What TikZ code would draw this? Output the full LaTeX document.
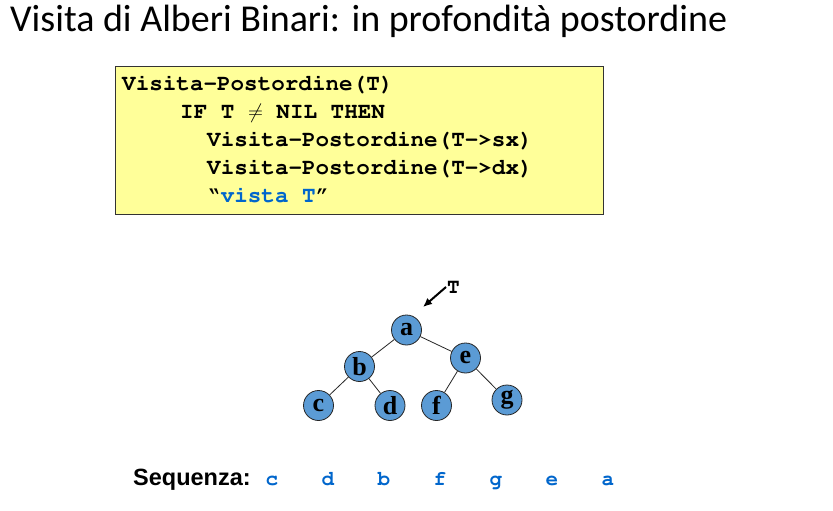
\documentclass[tikz,border=0pt]{standalone}
\usepackage{fontspec}
\setmainfont{Liberation Serif}
\newfontfamily\titlefont{Carlito}
\newfontfamily\labelfont{Liberation Sans}
% Courier (URW Nimbus Mono) for the pseudocode
\newcommand\courierbold{\fontencoding{T1}\fontfamily{pcr}\fontseries{b}\selectfont}
\usetikzlibrary{arrows.meta}
\definecolor{codebg}{HTML}{FFFF99}
\definecolor{nodeblue}{HTML}{5B9BD5}
\definecolor{seqblue}{HTML}{0066CC}
\tikzset{
  codebox/.style={draw=black!80, line width=0.8pt, fill=codebg},
  codeline/.style={anchor=base west, inner sep=0pt, font=\fontsize{22.6}{28}\courierbold},
  treenode/.style={circle, draw=black!85, line width=0.8pt, fill=nodeblue, minimum size=30pt, inner sep=0pt,
    font=\bfseries\fontsize{26}{26}\selectfont},
  treeedge/.style={draw=black!85, line width=0.8pt},
  seqitem/.style={anchor=base, inner sep=0pt, text=seqblue, font=\fontsize{21}{21}\courierbold},
}
\begin{document}
\begin{tikzpicture}[x=1pt,y=-1pt]
\useasboundingbox[fill=white] (0,0) rectangle (833,511);

% heading
\node[anchor=base west, inner sep=0pt, font=\titlefont\fontsize{38}{42}\selectfont] (title) at (10,32)
  {Visita di Alberi Binari: in profondità postordine};

% pseudocode box
\draw[codebox] (115,66) rectangle (603,214);
\node[codeline] (l1) at (122,90) {Visita-Postordine(T)};
\node[codeline] (l2) at (180,118) {IF T $\neq$ NIL THEN};
\node[codeline] (l3) at (207,146) {Visita-Postordine(T->sx)};
\node[codeline] (l4) at (207,174) {Visita-Postordine(T->dx)};
\node[codeline] (l5) at (207,202) {``\textcolor{seqblue}{vista T}''};

% binary tree
\node[treenode] (a) at (406.5,330) {a};
\node[treenode] (b) at (359.5,366.5) {b};
\node[treenode] (e) at (465.5,358) {e};
\node[treenode] (c) at (318.5,405.5) {c};
\node[treenode] (d) at (390,405.5) {d};
\node[treenode] (f) at (436.5,405.5) {f};
\node[treenode] (g) at (507,400) {g};
\draw[treeedge] (a) -- (b);
\draw[treeedge] (a) -- (e);
\draw[treeedge] (b) -- (c);
\draw[treeedge] (b) -- (d);
\draw[treeedge] (e) -- (f);
\draw[treeedge] (e) -- (g);

% root pointer
\node[anchor=base west, inner sep=0pt, font=\fontsize{21}{21}\courierbold] (tlabel) at (447,293) {T};
\coordinate (ptail) at (446,287);
\coordinate (phead) at (423,307);
\draw[line width=2pt, -{Latex[length=9pt,width=8pt]}] (ptail) -- (phead);

% visit order
\node[anchor=base west, inner sep=0pt, font=\labelfont\bfseries\fontsize{23.5}{24}\selectfont] (seqlabel) at (133,485) {Sequenza:};
\node[seqitem] (s1) at (272,485) {c};
\node[seqitem] (s2) at (328,485) {d};
\node[seqitem] (s3) at (384,485) {b};
\node[seqitem] (s4) at (440,485) {f};
\node[seqitem] (s5) at (496,485) {g};
\node[seqitem] (s6) at (552,485) {e};
\node[seqitem] (s7) at (608,485) {a};
\end{tikzpicture}
\end{document}
